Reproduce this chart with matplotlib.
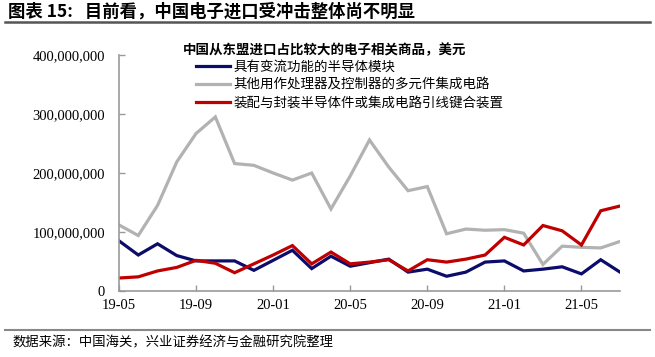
import matplotlib
matplotlib.use("Agg")
import matplotlib.pyplot as plt
from matplotlib.lines import Line2D
from matplotlib.ticker import FuncFormatter

months = ["19-05","19-06","19-07","19-08","19-09","19-10","19-11","19-12",
          "20-01","20-02","20-03","20-04","20-05","20-06","20-07","20-08",
          "20-09","20-10","20-11","20-12","21-01","21-02","21-03","21-04",
          "21-05","21-06","21-07"]

# values in millions of USD
module = [85, 61, 80, 60, 51, 51, 51, 35, 52, 69, 38, 59, 42, 48,
          54, 32, 37, 25, 32, 49, 51, 34, 37, 41, 29, 53, 32]
processor = [112, 94, 145, 219, 267, 295, 216, 213, 200, 188, 200, 139, 195, 256,
             210, 170, 177, 97, 105, 103, 104, 98, 45, 76, 74, 73, 84]
packaging = [22, 24, 34, 40, 52, 47, 31, 46, 61, 77, 46, 66, 46, 49,
             53, 34, 53, 49, 54, 61, 91, 78, 111, 102, 78, 136, 144]

names = ["具有变流功能的半导体模块",
         "其他用作处理器及控制器的多元件集成电路",
         "装配与封装半导体件或集成电路引线键合装置"]
colors = ["#0c0c6a", "#b2b2b2", "#c00000"]
legend_title = "中国从东盟进口占比较大的电子相关商品，美元"
title = "图表 15:   目前看，中国电子进口受冲击整体尚不明显"
source = "数据来源：中国海关，兴业证券经济与金融研究院整理"
tick_positions = [0, 4, 8, 12, 16, 20, 24]

cjk = ["Noto Sans CJK SC", "DejaVu Sans"]
serif = ["Liberation Serif", "DejaVu Serif"]

W, H = 655, 357
fig = plt.figure(figsize=(W/100, H/100), dpi=100)
ax = fig.add_axes([119/W, 1-291/H, (620-119)/W, (291-55)/H])

x = list(range(len(months)))
for vals, c in zip([module, processor, packaging], colors):
    ax.plot(x, [v*1e6 for v in vals], color=c, lw=2.3, solid_joinstyle="miter")

ax.set_xlim(0, 26)
ax.set_ylim(0, 400e6)
ax.set_yticks([0, 100e6, 200e6, 300e6, 400e6])
ax.yaxis.set_major_formatter(FuncFormatter(lambda v, p: f"{int(v):,}"))
ax.set_xticks(tick_positions)
ax.set_xticklabels([months[i] for i in tick_positions])
for lab in ax.get_xticklabels() + ax.get_yticklabels():
    lab.set_family(serif)
    lab.set_fontsize(10.5)
for s in ["top", "right"]:
    ax.spines[s].set_visible(False)
for s in ["left", "bottom"]:
    ax.spines[s].set_color("#999999")
    ax.spines[s].set_linewidth(1.2)
ax.tick_params(axis="both", direction="in", color="#999999", length=4, width=1)
ax.tick_params(axis="y", pad=10)
ax.tick_params(axis="x", pad=6)

# legend title
fig.text(183/W, 1-50/H, legend_title, family=cjk, fontsize=9.7, fontweight="bold",
         va="center", ha="left")
handles = [Line2D([0], [0], color=c, lw=2.3) for c in colors]
leg = fig.legend(handles, names, loc="upper left", bbox_to_anchor=(196/W, 1-60/H),
                 frameon=False, prop={"family": cjk, "size": 9.7},
                 handlelength=2.5, handletextpad=0.3, labelspacing=0.28,
                 borderpad=0, borderaxespad=0)

fig.text(8/W, 1-12/H, title, family=cjk, fontsize=12.5, fontweight="bold",
         va="center", ha="left")
fig.add_artist(Line2D([5/W, 650/W], [1-22/H, 1-22/H], color="#555555", lw=1.8))
fig.add_artist(Line2D([5/W, 650/W], [1-330/H, 1-330/H], color="#888888", lw=1.5))
fig.text(13/W, 1-342/H, source, family=cjk, fontsize=9.6, va="center", ha="left")

fig.savefig("out.png", dpi=100)
